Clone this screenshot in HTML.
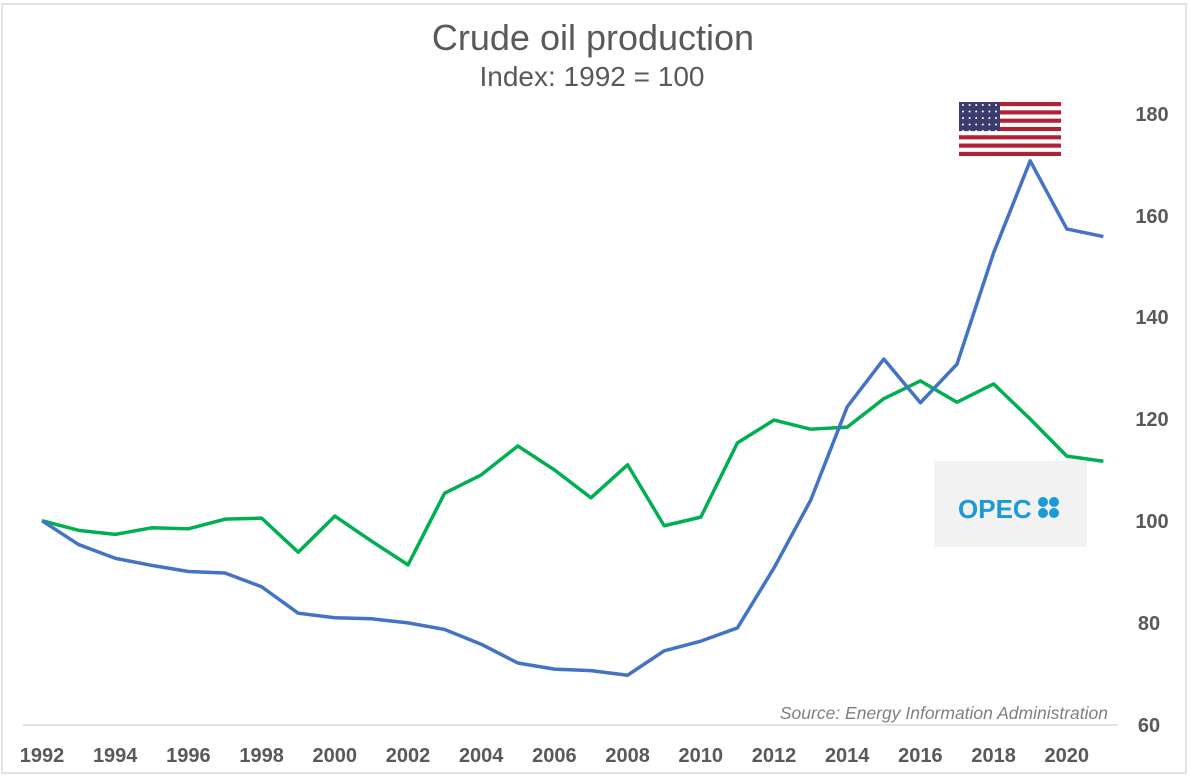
<!DOCTYPE html>
<html><head><meta charset="utf-8"><style>
body{margin:0;background:#fff;}
svg{display:block;font-family:"Liberation Sans",sans-serif;}
</style></head><body>
<svg id="s" width="1190" height="776" xmlns="http://www.w3.org/2000/svg">
<rect x="2" y="4" width="1184" height="769" fill="#fff" stroke="#d9d9d9" stroke-width="1.5"/>
<text x="593" y="50" text-anchor="middle" font-size="36" fill="#595959">Crude oil production</text>
<text x="592" y="86" text-anchor="middle" font-size="28" fill="#595959">Index: 1992 = 100</text>
<line x1="23" y1="725" x2="1118" y2="725" stroke="#d9d9d9" stroke-width="1.5"/>
<g font-size="20" font-weight="bold" fill="#595959" text-anchor="middle">
<text x="1152" y="121">180</text><text x="1152" y="223">160</text><text x="1152" y="324">140</text>
<text x="1152" y="426">120</text><text x="1152" y="528">100</text><text x="1149" y="630">80</text><text x="1149" y="732">60</text>
</g>
<g id="xl" font-size="20" font-weight="bold" fill="#595959" text-anchor="middle"></g>
<text x="1108" y="719" text-anchor="end" font-size="17.5" font-style="italic" fill="#7f7f7f">Source: Energy Information Administration</text>
<rect x="934" y="461" width="153" height="86" fill="#f2f2f2"/>
<text x="958" y="518" font-size="26" font-weight="bold" fill="#1a9ad6">OPEC</text>
<g fill="#1a9ad6"><circle cx="1043" cy="502" r="5"/><circle cx="1054" cy="502" r="5"/><circle cx="1043" cy="513" r="5"/><circle cx="1054" cy="513" r="5"/></g>
<g fill="#f2f2f2"><circle cx="1048.5" cy="507.5" r="3"/></g>
<g id="flag"></g>
<polyline id="g" fill="none" stroke="#00b050" stroke-width="3.5" stroke-linejoin="round"/>
<polyline id="b" fill="none" stroke="#4472c4" stroke-width="3.5" stroke-linejoin="round"/>
</svg>
<script>
var blue=[100,95.3,92.6,91.2,90,89.7,87,81.8,80.9,80.7,79.9,78.6,75.7,72,70.8,70.5,69.6,74.4,76.3,78.9,90.7,104,122.4,131.8,123.2,130.8,152.7,170.8,157.4,155.9];
var green=[100,98.1,97.3,98.6,98.4,100.3,100.5,93.8,100.9,96,91.3,105.4,109,114.7,110,104.5,111,99,100.7,115.3,119.8,118,118.4,124,127.5,123.3,126.9,120,112.7,111.7];
function X(i){return 42+i*36.6}function Y(v){return 724-(v-60)*5.083}
document.getElementById('b').setAttribute('points',blue.map((v,i)=>X(i)+','+Y(v)).join(' '));
document.getElementById('g').setAttribute('points',green.map((v,i)=>X(i)+','+Y(v)).join(' '));
var xl=document.getElementById('xl'),h='';
for(var i=0;i<=28;i+=2)h+='<text x="'+X(i)+'" y="762">'+(1992+i)+'</text>';
xl.innerHTML=h;
var f='',x0=959,y0=102,w=102,hh=54,sh=hh/13;
f+='<rect x="'+x0+'" y="'+y0+'" width="'+w+'" height="'+hh+'" fill="#fff"/>';
for(var k=0;k<13;k+=2)f+='<rect x="'+x0+'" y="'+(y0+k*sh)+'" width="'+w+'" height="'+sh+'" fill="#b22234"/>';
f+='<rect x="'+x0+'" y="'+y0+'" width="41" height="'+(sh*7)+'" fill="#3c3b6e"/>';
for(var r=0;r<5;r++)for(var c=0;c<6;c++)f+='<circle cx="'+(x0+4+c*6.6)+'" cy="'+(y0+3+r*6.5)+'" r="1" fill="#fff"/>';
document.getElementById('flag').innerHTML=f;
</script>
</body></html>
